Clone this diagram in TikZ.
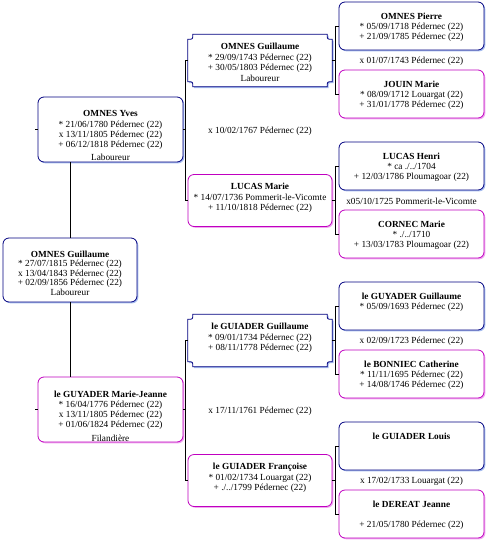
\documentclass[tikz,border=0pt]{standalone}
\usepackage{fontspec}
\setmainfont{Liberation Serif}
\usetikzlibrary{calc,shadows}
\definecolor{navy}{HTML}{000080}
\definecolor{mag}{HTML}{C000C0}
\definecolor{lblue}{HTML}{A8BEF0}
\definecolor{lpink}{HTML}{F0A8F0}
\newcommand\scalshape[3]{%
 \path[#2] let \p1=(#1.north west), \p2=(#1.south east) in
 (\x1+5pt+#3,\y1-#3) -- (\x2-5pt+#3,\y1-#3) .. controls (\x2-5pt+#3,\y1-5pt-#3) .. (\x2+#3,\y1-5pt-#3)
 -- (\x2+#3,\y2+5pt-#3) .. controls (\x2-5pt+#3,\y2+5pt-#3) .. (\x2-5pt+#3,\y2-#3)
 -- (\x1+5pt+#3,\y2-#3) .. controls (\x1+5pt+#3,\y2+5pt-#3) .. (\x1+#3,\y2+5pt-#3)
 -- (\x1+#3,\y1-5pt-#3) .. controls (\x1+5pt+#3,\y1-5pt-#3) .. (\x1+5pt+#3,\y1-#3) -- cycle;}
\tikzset{
  nbox/.style={draw=navy, line width=0.8pt, fill=white, rounded corners=6pt, inner sep=0pt,
    drop shadow={shadow xshift=1.3pt, shadow yshift=-1.3pt, fill=lblue, opacity=1}},
  mbox/.style={draw=mag, line width=0.8pt, fill=white, rounded corners=6pt, inner sep=0pt,
    drop shadow={shadow xshift=1.3pt, shadow yshift=-1.3pt, fill=lpink, opacity=1}},
  sbox/.style={draw=none, inner sep=0pt},
  g0size/.style={minimum width=134pt, minimum height=64pt},
  g1size/.style={minimum width=145pt, minimum height=65pt},
  g2size/.style={minimum width=144pt, minimum height=52pt},
  g3size/.style={minimum width=145pt, minimum height=48pt},
  txt/.style={align=center, inner sep=0pt, anchor=north},
  t0/.style={txt, font=\fontsize{9.3}{9.6}\selectfont},
  t1/.style={txt, font=\fontsize{9.3}{10.3}\selectfont},
  t2/.style={txt, font=\fontsize{9.3}{10.5}\selectfont},
  t3/.style={txt, font=\fontsize{9.3}{10}\selectfont},
  mar/.style={inner sep=0pt, font=\fontsize{9.3}{10}\selectfont},
  conn/.style={draw=black, line width=0.8pt},
}
\begin{document}
\begin{tikzpicture}[x=1pt,y=-1pt]
\useasboundingbox[fill=white] (0,0) rectangle (487,547);
% generation 0
\node[nbox, g0size] (g0) at (70,270) {};
% generation 1
\node[nbox, g1size] (yves) at (110.5,129.5) {};
\node[mbox, g1size] (mj) at (110.5,409.5) {};
% generation 2
\node[sbox, g2size] (g2a) at (260,60.5) {};
\node[mbox, g2size] (g2b) at (260,200.5) {};
\node[sbox, g2size] (g2c) at (260,340.5) {};
\node[mbox, g2size] (g2d) at (260,480.5) {};
\scalshape{g2a}{fill=lblue}{1.3pt}
\scalshape{g2a}{fill=white, draw=navy, line width=0.8pt}{0pt}
\scalshape{g2c}{fill=lblue}{1.3pt}
\scalshape{g2c}{fill=white, draw=navy, line width=0.8pt}{0pt}
% generation 3
\node[nbox, g3size] (p1) at (411.5,26) {};
\node[mbox, g3size] (p2) at (411.5,94) {};
\node[nbox, g3size] (p3) at (411.5,166) {};
\node[mbox, g3size] (p4) at (411.5,234) {};
\node[nbox, g3size] (p5) at (411.5,306) {};
\node[mbox, g3size] (p6) at (411.5,374) {};
\node[nbox, g3size] (p7) at (411.5,446) {};
\node[mbox, g3size] (p8) at (411.5,514) {};
% connectors
\draw[conn] (yves.south -| g0.north) -- (g0.north);
\draw[conn] (g0.south) -- (g0.south |- mj.north);
\draw[conn] (yves.west) -- ++(-2.5,0);
\draw[conn] (mj.west) -- ++(-2.5,0);
\draw[conn] (g2a.west) -- ++(-2.5,0) coordinate (b2a) |- (g2b.west);
\draw[conn] (yves.east) -- (yves.east -| b2a);
\draw[conn] (g2c.west) -- ++(-2.5,0) coordinate (b2b) |- (g2d.west);
\draw[conn] (mj.east) -- (mj.east -| b2b);
\draw[conn] (p1.west) -- ++(-3,0) coordinate (b3a) |- (p2.west);
\draw[conn] (g2a.east) -- (g2a.east -| b3a);
\draw[conn] (p3.west) -- ++(-3,0) coordinate (b3b) |- (p4.west);
\draw[conn] (g2b.east) -- (g2b.east -| b3b);
\draw[conn] (p5.west) -- ++(-3,0) coordinate (b3c) |- (p6.west);
\draw[conn] (g2c.east) -- (g2c.east -| b3c);
\draw[conn] (p7.west) -- ++(-3,0) coordinate (b3d) |- (p8.west);
\draw[conn] (g2d.east) -- (g2d.east -| b3d);
% texts
\node[t0] (g0t) at ($(g0.north)+(0,12.8)$) {\textbf{OMNES Guillaume}\\{}* 27/07/1815 Pédernec (22)\\{}x 13/04/1843 Pédernec (22)\\{}+ 02/09/1856 Pédernec (22)\\{}Laboureur};
\node[t1] (yvest) at ($(yves.north)+(0,13.8)$) {\textbf{OMNES Yves}\\{}* 21/06/1780 Pédernec (22)\\{}x 13/11/1805 Pédernec (22)\\{}+ 06/12/1818 Pédernec (22)\\[3pt]Laboureur};
\node[t1] (mjt) at ($(mj.north)+(0,13.8)$) {\textbf{le GUYADER Marie-Jeanne}\\{}* 16/04/1776 Pédernec (22)\\{}x 13/11/1805 Pédernec (22)\\{}+ 01/06/1824 Pédernec (22)\\[3pt]Filandière};
\node[t2] (g2at) at ($(g2a.north)+(0,9)$) {\textbf{OMNES Guillaume}\\{}* 29/09/1743 Pédernec (22)\\{}+ 30/05/1803 Pédernec (22)\\{}Laboureur};
\node[t2] (g2bt) at ($(g2b.north)+(0,9)$) {\textbf{LUCAS Marie}\\{}* 14/07/1736 Pommerit-le-Vicomte\\{}+ 11/10/1818 Pédernec (22)};
\node[t2] (g2ct) at ($(g2c.north)+(0,9)$) {\textbf{le GUIADER Guillaume}\\{}* 09/01/1734 Pédernec (22)\\{}+ 08/11/1778 Pédernec (22)};
\node[t2] (g2dt) at ($(g2d.north)+(0,9)$) {\textbf{le GUIADER Françoise}\\{}* 01/02/1734 Louargat (22)\\{}+ ./../1799 Pédernec (22)};
\node[t3] (p1t) at ($(p1.north)+(0,10.8)$) {\textbf{OMNES Pierre}\\{}* 05/09/1718 Pédernec (22)\\{}+ 21/09/1785 Pédernec (22)};
\node[t3] (p2t) at ($(p2.north)+(0,10.8)$) {\textbf{JOUIN Marie}\\{}* 08/09/1712 Louargat (22)\\{}+ 31/01/1778 Pédernec (22)};
\node[t3] (p3t) at ($(p3.north)+(0,10.8)$) {\textbf{LUCAS Henri}\\{}* ca ./../1704\\{}+ 12/03/1786 Ploumagoar (22)};
\node[t3] (p4t) at ($(p4.north)+(0,10.8)$) {\textbf{CORNEC Marie}\\{}* ./../1710\\{}+ 13/03/1783 Ploumagoar (22)};
\node[t3] (p5t) at ($(p5.north)+(0,10.8)$) {\textbf{le GUYADER Guillaume}\\{}* 05/09/1693 Pédernec (22)};
\node[t3] (p6t) at ($(p6.north)+(0,10.8)$) {\textbf{le BONNIEC Catherine}\\{}* 11/11/1695 Pédernec (22)\\{}+ 14/08/1746 Pédernec (22)};
\node[t3] (p7t) at ($(p7.north)+(0,10.8)$) {\textbf{le GUIADER Louis}};
\node[t3] (p8t) at ($(p8.north)+(0,10.8)$) {\textbf{le DEREAT Jeanne}\\\mbox{}\\{}+ 21/05/1780 Pédernec (22)};
% marriages
\node[mar] (m2a) at (260,131.5) {x 10/02/1767 Pédernec (22)};
\node[mar] (m2b) at (260,411.5) {x 17/11/1761 Pédernec (22)};
\node[mar] (m3a) at (411.5,61.5) {x 01/07/1743 Pédernec (22)};
\node[mar] (m3b) at (411.5,201) {x05/10/1725 Pommerit-le-Vicomte};
\node[mar] (m3c) at (411.5,341.5) {x 02/09/1723 Pédernec (22)};
\node[mar] (m3d) at (411.5,481.5) {x 17/02/1733 Louargat (22)};
\end{tikzpicture}
\end{document}
